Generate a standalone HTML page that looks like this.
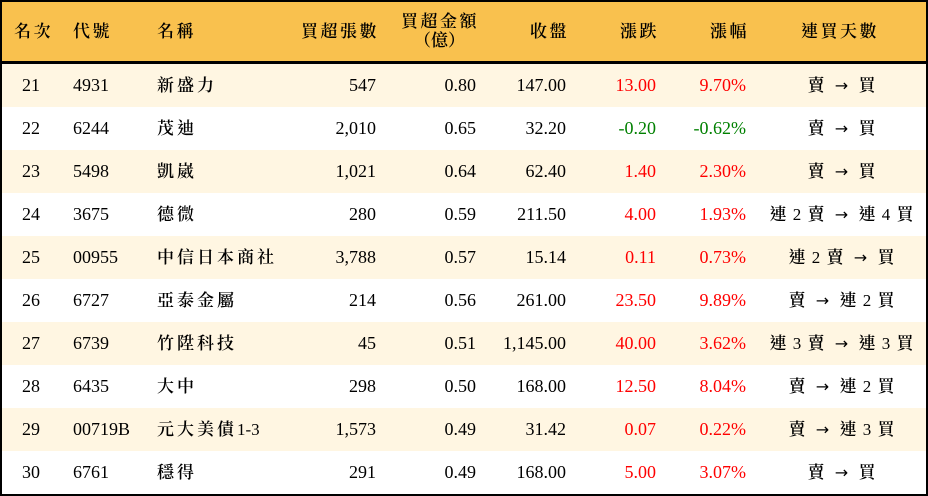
<!DOCTYPE html>
<html><head><meta charset="utf-8"><style>
*{margin:0;padding:0;box-sizing:border-box}
body{width:928px;height:496px;background:#fff;overflow:hidden;position:relative;font-family:"Liberation Serif","Noto Serif CJK TC","Noto Serif CJK SC",serif;color:#000}
#frame{position:absolute;left:0;top:0;width:928px;height:496px;border:2px solid #000}
#hdr{position:absolute;left:2px;top:2px;width:924px;height:59px;background:#F9C14E}
#hl{position:absolute;left:2px;top:61px;width:924px;height:3px;background:#000}
.row{position:absolute;left:2px;width:924px;height:43px}
.c{position:absolute;font-size:18px;line-height:43px;white-space:nowrap}
.h{position:absolute;font-size:17px;line-height:20px;white-space:nowrap;letter-spacing:2.5px;font-weight:600}
.r{text-align:right}.red{color:#f00}.grn{color:#008000}
.ctr{text-align:center;width:170px;left:757px}
.ar{font-family:"DejaVu Sans",sans-serif;font-size:16px;padding:0 4px}
.cj{font-weight:600}
.nm .cj{letter-spacing:3px}
</style></head><body>
<div id="hdr"></div><div id="hl"></div>
<div class="h" style="left:14px;top:22px">名次</div>
<div class="h" style="left:73px;top:22px">代號</div>
<div class="h" style="left:157px;top:22px">名稱</div>
<div class="h" style="right:549px;top:22px">買超張數</div>
<div class="h" style="right:449px;top:12px">買超金額</div>
<div class="h" style="left:414px;top:31px;letter-spacing:0">（億）</div>
<div class="h" style="right:359px;top:22px">收盤</div>
<div class="h" style="right:269px;top:22px">漲跌</div>
<div class="h" style="right:179px;top:22px">漲幅</div>
<div class="h" style="left:801px;top:22px">連買天數</div>
<div id="rows"></div>
<script>
var d=[
["21","4931","新盛力","547","0.80","147.00","13.00","9.70%","賣 → 買",1],
["22","6244","茂迪","2,010","0.65","32.20","-0.20","-0.62%","賣 → 買",0],
["23","5498","凱崴","1,021","0.64","62.40","1.40","2.30%","賣 → 買",1],
["24","3675","德微","280","0.59","211.50","4.00","1.93%","連 2 賣 → 連 4 買",1],
["25","00955","中信日本商社","3,788","0.57","15.14","0.11","0.73%","連 2 賣 → 買",1],
["26","6727","亞泰金屬","214","0.56","261.00","23.50","9.89%","賣 → 連 2 買",1],
["27","6739","竹陞科技","45","0.51","1,145.00","40.00","3.62%","連 3 賣 → 連 3 買",1],
["28","6435","大中","298","0.50","168.00","12.50","8.04%","賣 → 連 2 買",1],
["29","00719B","元大美債1-3","1,573","0.49","31.42","0.07","0.22%","賣 → 連 3 買",1],
["30","6761","穩得","291","0.49","168.00","5.00","3.07%","賣 → 買",1]];
var h="";
function cj(s){return s.replace(/([\u4e00-\u9fff])/g,'<span class="cj">$1</span>');}
d.forEach(function(r,i){var t=64+i*43;var bg=i%2==0?"#FFF6E2":"#fff";var col=r[9]?"red":"grn";
h+='<div class="row" style="top:'+t+'px;background:'+bg+'"></div>';
h+='<div class="c" style="top:'+t+'px;left:22px">'+r[0]+'</div>';
h+='<div class="c" style="top:'+t+'px;left:73px">'+r[1]+'</div>';
h+='<div class="c nm" style="top:'+t+'px;left:157px;font-size:17px">'+cj(r[2])+'</div>';
h+='<div class="c r" style="top:'+t+'px;right:552px">'+r[3]+'</div>';
h+='<div class="c r" style="top:'+t+'px;right:452px">'+r[4]+'</div>';
h+='<div class="c r" style="top:'+t+'px;right:362px">'+r[5]+'</div>';
h+='<div class="c r '+col+'" style="top:'+t+'px;right:272px">'+r[6]+'</div>';
h+='<div class="c r '+col+'" style="top:'+t+'px;right:182px">'+r[7]+'</div>';
h+='<div class="c ctr" style="top:'+t+'px;font-size:17px;letter-spacing:1px">'+cj(r[8]).replace("→",'<span class="ar">→</span>')+'</div>';});
document.getElementById("rows").innerHTML=h;
</script>
<div id="frame"></div>
</body></html>
